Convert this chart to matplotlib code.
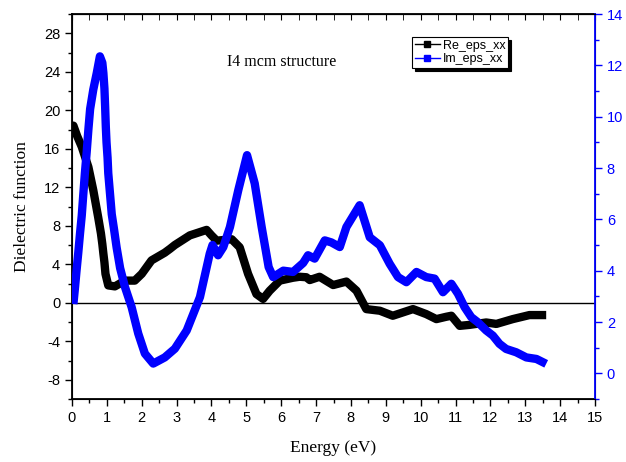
import numpy as np
import matplotlib
matplotlib.use('Agg')
import matplotlib.pyplot as plt
from matplotlib.lines import Line2D
from matplotlib.ticker import MultipleLocator

# Re_eps_xx (left axis)
e_re = [0.0, 0.04, 0.15, 0.28, 0.47, 0.61, 0.75, 0.83, 0.87, 0.9, 0.93, 0.96, 1.04,
        1.23, 1.52, 1.8, 2.0, 2.28, 2.66, 2.81, 2.95, 3.38, 3.86, 4.0, 4.15, 4.58,
        4.81, 5.05, 5.29, 5.48, 5.67, 5.96, 6.34, 6.53, 6.72, 6.82, 7.1, 7.49, 7.87,
        8.16, 8.44, 8.83, 9.2, 9.78, 10.16, 10.45, 10.73, 10.88, 11.12, 11.4, 11.88,
        12.17, 12.64, 13.12, 13.6]
re_eps = [18.4, 18.4, 17.3, 16.2, 14.1, 11.7, 8.9, 7.2, 6.1, 5.1, 4.2, 3.0, 1.8,
          1.7, 2.3, 2.3, 3.0, 4.4, 5.2, 5.6, 6.0, 7.0, 7.57, 7.0, 6.45, 6.6,
          5.76, 3.0, 0.9, 0.4, 1.25, 2.3, 2.6, 2.7, 2.65, 2.36, 2.7, 1.84, 2.2,
          1.25, -0.66, -0.83, -1.35, -0.66, -1.18, -1.7, -1.46, -1.35, -2.4, -2.3, -2.05,
          -2.2, -1.7, -1.28, -1.28]

# Im_eps_xx (right axis)
e_im = [0.04, 0.09, 0.13, 0.18, 0.23, 0.28, 0.32, 0.37, 0.42, 0.47, 0.52, 0.61, 0.71,
        0.8, 0.87, 0.9, 0.93, 0.95, 0.97, 0.99, 1.02, 1.04, 1.09, 1.14, 1.21, 1.28,
        1.38, 1.52, 1.71, 1.9, 2.09, 2.33, 2.66, 2.95, 3.29, 3.67, 3.95, 4.03, 4.19,
        4.34, 4.53, 4.77, 5.02, 5.24, 5.44, 5.64, 5.77, 6.06, 6.34, 6.63, 6.77, 6.96,
        7.25, 7.44, 7.68, 7.87, 8.25, 8.54, 8.83, 9.11, 9.35, 9.59, 9.88, 10.16, 10.4,
        10.64, 10.88, 11.07, 11.26, 11.45, 11.64, 11.88, 12.07, 12.26, 12.45, 12.74,
        13.03, 13.32, 13.6]
im_eps = [2.7, 3.4, 4.0, 4.7, 5.45, 6.15, 6.9, 7.8, 8.6, 9.5, 10.3, 11.05, 11.7,
          12.35, 12.1, 11.7, 11.1, 10.4, 9.6, 9.0, 8.4, 7.8, 7.0, 6.2, 5.57, 4.9,
          4.1, 3.36, 2.58, 1.55, 0.77, 0.38, 0.62, 0.96, 1.67, 2.97, 4.66, 5.0, 4.6,
          4.92, 5.7, 7.14, 8.5, 7.4, 5.7, 4.14, 3.75, 4.0, 3.95, 4.3, 4.6, 4.47,
          5.18, 5.1, 4.92, 5.7, 6.55, 5.3, 4.99, 4.27, 3.75, 3.55, 3.95, 3.75, 3.69,
          3.16, 3.49, 3.1, 2.58, 2.19, 1.99, 1.67, 1.47, 1.15, 0.95, 0.82,
          0.62, 0.56, 0.37]

blue = '#0000ff'
plt.rcParams['font.family'] = 'Liberation Sans'
plt.rcParams['axes.unicode_minus'] = False

fig = plt.figure(figsize=(6.26, 4.62), dpi=100)
ax = fig.add_axes([72/626, 1-399/462, 523/626, 385/462])
ax2 = ax.twinx()

ax.plot(e_re, re_eps, color='black', lw=6,
        solid_joinstyle='round', solid_capstyle='butt', zorder=3)
ax2.plot(e_im, im_eps, color=blue, lw=6,
         solid_joinstyle='round', solid_capstyle='butt', zorder=3)
ax.axhline(0, color='black', lw=1, zorder=2)

ax.set_xlim(0, 15)
ax.set_ylim(-10, 30)
ax2.set_ylim(-1, 14)

ax.xaxis.set_major_locator(MultipleLocator(1))
ax.xaxis.set_minor_locator(MultipleLocator(0.5))
ax.yaxis.set_major_locator(MultipleLocator(4))
ax.yaxis.set_minor_locator(MultipleLocator(2))
ax2.yaxis.set_major_locator(MultipleLocator(2))
ax2.yaxis.set_minor_locator(MultipleLocator(1))

ax.tick_params(axis='both', which='both', direction='out', labelsize=10.5)
ax.tick_params(which='major', length=5, width=1)
ax.tick_params(which='minor', length=3, width=1)
ax2.tick_params(axis='y', which='both', colors=blue, labelsize=10.5, width=1)
ax2.tick_params(which='major', length=5)
ax2.tick_params(which='minor', length=3)
ax2.spines['right'].set_color(blue)
ax2.spines['right'].set_linewidth(1.3)

# top ticks point inward
secx = ax.secondary_xaxis('top')
secx.xaxis.set_major_locator(MultipleLocator(1))
secx.xaxis.set_minor_locator(MultipleLocator(0.5))
secx.tick_params(which='both', direction='in', labeltop=False, length=4)

for s in ['left', 'bottom', 'top']:
    ax.spines[s].set_linewidth(1.3)

ax.set_xlabel('Energy (eV)', family='Liberation Serif', fontsize=12.5, labelpad=11)
ax.set_ylabel('Dielectric function', family='Liberation Serif', fontsize=12.5, labelpad=10)

ax.text((282-72)/523, 1 - (62-14)/385, 'I4 mcm structure',
        transform=ax.transAxes, family='Liberation Serif', fontsize=11.5,
        ha='center', va='center')

handles = [Line2D([], [], color='black', lw=1, marker='s', ms=5),
           Line2D([], [], color=blue, lw=1, marker='s', ms=5)]
leg = fig.legend(handles, ['Re_eps_xx', 'Im_eps_xx'], loc='upper left',
                 bbox_to_anchor=(412/626, 1-37/462), fontsize=9, frameon=True,
                 fancybox=False, shadow={'color': 'black', 'alpha': 1},
                 handlelength=2, handletextpad=0.3, borderpad=0.2,
                 labelspacing=0.15, borderaxespad=0)
leg.get_frame().set_edgecolor('black')
leg.get_frame().set_linewidth(0.8)

fig.savefig('out.png', dpi=100)
